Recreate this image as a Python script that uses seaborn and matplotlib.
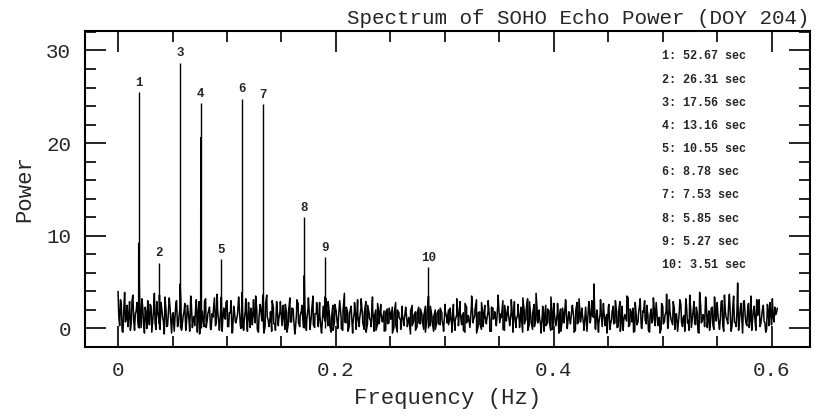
import numpy as np
import pandas as pd
import matplotlib
matplotlib.use("Agg")
import matplotlib.pyplot as plt
import seaborn as sns
from matplotlib.ticker import MultipleLocator

# ---------------- data ----------------
# noise floor, sampled on an even frequency grid (set A)
noise_power_a = [
    4.0, 0.3, 2.6, -0.4, 3.9, 1.1, 0.2, 2.9, 0.6, 3.6, -0.2, 1.9, 0.8, 3.4, 0.1, 2.2, -0.5, 1.5, 3.0, 0.4,
    2.4, 0.9, 3.8, -0.1, 1.7, 0.5, 2.8, 1.2, -0.6, 2.1, 0.3, 3.3, 0.7, 1.6, -0.3, 2.7, 0.2, 1.4, 3.1, 0.6,
    1.9, -0.2, 2.5, 0.8, 3.5, 0.1, 1.3, 2.3, -0.4, 2.9, 0.5, 1.8, 0.2, 3.2, 0.9, 2.0, -0.1, 1.6, 2.6, 0.3,
    3.7, 0.6, 1.5, -0.3, 2.2, 1.0, 3.0, 0.2, 1.7, -0.5, 2.4, 0.7, 1.2, 3.4, 0.4, 2.1, -0.2, 1.9, 0.5, 2.8,
    0.1, 1.4, 3.1, 0.6, 2.0, -0.4, 2.6, 0.9, 1.6, 0.2, 3.6, 0.8, 1.1, -0.3, 2.3, 0.5, 2.9, 0.3, 1.8, 1.0,
    2.5, -0.1, 1.7, 0.4, 3.3, 0.7, 2.1, -0.6, 1.5, 2.7, 0.2, 1.9, 0.6, 3.0, -0.2, 2.2, 0.8, 1.3, 3.5, 0.1,
    1.6, 0.5, 2.8, -0.3, 2.0, 1.1, 3.2, 0.3, 1.4, -0.4, 2.5, 0.7, 1.9, 0.0, 2.7, 1.2, -0.2, 3.8, 0.6, 1.7,
    0.3, 2.4, -0.5, 1.8, 0.9, 3.1, 0.2, 2.2, 1.3, -0.1, 2.9, 0.5, 1.6, 0.8, 3.4, -0.3, 2.0, 0.4, 1.5, 2.6,
    0.7, 1.9, -0.2, 2.1, 0.6, 1.4, 2.3, 0.1, 2.8, -0.4, 1.7, 0.9, 2.4, 0.3, 2.1, 0.6, 1.2, -0.6, 2.5, 0.8,
    1.8, 0.2, 2.3, 0.5, 1.5, -0.1, 2.4, 1.0, 2.9, 0.3, 1.3, -0.3, 2.0, 0.7, 2.0, 0.4, 1.7, 0.0, 2.6, 1.1,
    0.4, 2.2, -0.4, 1.6, 0.8, 3.2, 0.3, 1.9, 1.2, -0.2, 2.7, 0.6, 1.4, 0.1, 3.5, 0.9, 2.0, -0.5, 1.7, 0.5,
    2.8, 0.2, 1.5, 0.7, 3.0, -0.3, 2.3, 1.0, 1.8, 0.4, 3.6, 0.6, 1.2, -0.1, 2.5, 0.8, 1.9, 0.3, 3.1, -0.4,
    1.6, 0.9, 2.6, 0.1, 1.4, 3.3, 0.5, 2.0, -0.2, 2.9, 0.7, 1.7, 0.2, 3.8, 0.6, 1.3, -0.5, 2.4, 1.1, 0.3,
    2.1, 0.8, 3.4, -0.1, 1.8, 0.4, 2.7, 1.2, -0.3, 2.2, 0.6, 3.0, 0.2, 1.5, 0.9, 2.5, -0.4, 1.9, 0.5, 3.2,
    0.7, 1.6, -0.2, 2.3, 0.3, 2.9, 0.9, 1.4, 4.8, -0.1, 1.7, 0.6, 3.1, 0.2, 2.0, 1.0, -0.5, 2.6, 0.4, 1.8,
    0.5, 3.0, 0.1, 1.9, -0.3, 2.4, 0.8, 1.3, 3.5, 0.2, 2.1, 0.7, -0.4, 2.8, 0.4, 1.6, 3.2, 0.0, 1.8, 0.9,
    2.5, -0.2, 1.5, 0.6, 3.3, 0.3, 2.0, 1.1, -0.5, 2.7, 0.5, 1.4, 3.7, 0.2, 1.9, 0.8, 2.9, -0.1, 1.6, 0.4,
    3.1, 0.7, 1.2, -0.3, 2.6, 0.9, 3.6, 0.1, 1.8, 0.5, 2.3, -0.4, 3.9, 0.6, 1.5, 0.2, 2.8, 1.0, -0.2, 2.2,
    0.4, 3.4, 0.8, 1.7, -0.1, 2.9, 0.3, 3.6, 1.2, 0.5, 3.7, -0.3, 2.1, 0.7, 0.2, 4.9, 0.6, 2.7, -0.5, 3.0,
    0.6, 1.9, 0.1, 3.5, 0.9, 2.4, -0.2, 1.4, 3.1, 0.5, 2.0, 0.8, -0.4, 2.6, 0.3, 1.8, 3.2, 0.7, 1.5, 2.2,
]
# noise floor, the in-between frequency bins (set B)
noise_power_b = [
    1.2, 3.1, -0.3, 2.0, 0.7, 2.5, 1.4, -0.2, 3.0, 0.9, 1.6, 2.8, 0.1, 1.9, 3.2, 0.5, 2.3, 0.0, 1.1, 2.6,
    -0.4, 1.8, 0.6, 2.9, 1.3, -0.1, 2.2, 0.8, 3.4, 0.2, 1.5, 2.4, -0.5, 1.7, 0.9, 3.0, 0.4, 2.1, -0.2, 1.3,
    2.7, 0.5, 1.9, -0.3, 2.6, 1.0, 0.3, 3.1, 1.4, -0.6, 2.0, 0.8, 2.9, 0.1, 1.6, 2.3, -0.1, 1.2, 3.3, 0.6,
    1.8, -0.2, 2.5, 0.9, 1.3, 2.8, 0.2, 1.7, 3.0, -0.4, 2.1, 0.6, 1.5, 2.6, 0.0, 1.9, 0.7, 3.2, -0.3, 1.4,
    2.2, 0.4, 1.6, 3.5, -0.1, 1.1, 2.4, 0.8, -0.5, 2.7, 1.3, 0.2, 1.8, 3.0, 0.5, -0.2, 2.3, 1.0, 2.9, 0.3,
    1.5, 2.6, -0.4, 1.9, 0.7, 2.2, 1.2, -0.3, 3.1, 0.6, 1.4, 2.5, 0.1, 1.8, 0.9, 3.3, -0.1, 2.0, 0.4, 1.6,
    2.8, 0.2, 1.3, -0.5, 2.4, 0.8, 1.7, 2.9, 0.3, 1.1, -0.2, 2.6, 1.5, 0.5, 3.0, 0.0, 1.9, 0.7, 2.3, -0.3,
    1.6, 2.1, 0.4, 2.8, -0.1, 1.4, 0.9, 3.2, 0.6, 1.8, -0.4, 2.5, 1.1, 0.2, 2.0, 1.3, -0.2, 2.7, 0.5, 1.7,
    0.9, -0.3, 1.8, 0.5, 2.2, 1.0, -0.5, 1.6, 0.4, 2.0, 1.2, -0.1, 1.5, 0.7, 2.3, 0.2, 1.1, 1.9, 0.3, 1.4,
    -0.2, 1.7, 0.6, 2.1, 0.9, 1.3, -0.4, 1.8, 0.3, 2.4, 0.8, 1.2, -0.1, 1.6, 0.5, 2.2, 1.0, -0.3, 1.9, 0.6,
    2.0, 1.1, 0.3, 2.6, -0.2, 1.5, 0.8, 2.9, 0.4, 1.7, -0.4, 2.3, 1.0, 0.1, 2.7, 0.6, 1.4, 3.1, 0.2, 1.8,
    -0.1, 1.3, 2.5, 0.5, 1.9, 0.9, -0.3, 2.2, 1.2, 0.3, 2.8, 0.7, 1.6, 3.0, -0.2, 1.1, 2.4, 0.6, 1.7, 0.8,
    2.9, 0.1, 1.5, 0.7, 2.3, -0.4, 1.8, 1.0, 3.2, 0.4, 1.2, -0.1, 2.6, 0.9, 1.4, 2.0, 0.2, 1.7, -0.3, 2.5,
    0.6, 1.9, -0.2, 1.3, 2.7, 0.3, 1.6, -0.5, 2.1, 0.8, 1.4, 3.1, 0.0, 1.8, 0.5, 2.4, 1.1, -0.2, 2.8, 0.7,
    1.3, 2.2, 0.4, 1.7, -0.3, 2.5, 0.6, 3.0, 1.2, 0.1, 2.0, -0.4, 1.6, 0.9, 2.7, 0.3, 1.5, 2.3, -0.1, 1.0,
    2.4, 0.6, 1.8, 0.2, 2.9, 1.1, -0.2, 1.5, 0.8, 3.3, 0.4, 1.7, 2.2, -0.3, 1.2, 0.7, 2.6, 0.1, 1.9, 3.0,
    0.5, 1.4, -0.4, 2.1, 0.9, 1.6, 2.8, 0.3, 1.2, -0.1, 2.4, 0.7, 1.8, 0.0, 3.1, 1.0, 0.4, 2.2, 1.5, -0.3,
    1.7, 2.6, 0.2, 1.4, 3.2, 0.6, -0.2, 2.0, 1.1, 2.9, 0.4, 1.6, -0.5, 2.5, 0.8, 1.3, 3.4, 0.1, 1.9, 0.7,
    2.3, -0.1, 1.5, 2.8, 0.5, 1.2, 3.0, -0.3, 1.8, 0.9, 2.6, 1.3, 0.2, 3.5, 0.6, 1.7, -0.2, 2.1, 1.0, 2.9,
    1.4, 0.3, 2.7, 1.0, -0.2, 2.0, 0.8, 3.1, 1.6, 0.2, 1.3, 2.5, 0.6, -0.1, 1.9, 2.8, 0.4, 1.2, 2.3, 1.7,
]
freq_start, freq_end = 0.0, 0.605

peak_ids = ["1", "2", "3", "4", "5", "6", "7", "8", "9", "10"]
peak_periods = [52.67, 26.31, 17.56, 13.16, 10.55, 8.78, 7.53, 5.85, 5.27, 3.51]
peak_data_power = [9.2, 3.6, 4.8, 20.6, 3.4, 3.9, 3.6, 5.7, 3.4, 3.5]
peak_marker_top = [25.5, 7.1, 28.7, 24.3, 7.5, 24.8, 24.2, 12.0, 7.7, 6.6]

legend_lines = [f"{i}: {p:.2f} sec" for i, p in zip(peak_ids, peak_periods)]

x_tick_values = [0, 0.2, 0.4, 0.6]
x_tick_labels = ["0", "0.2", "0.4", "0.6"]
y_tick_values = [0, 10, 20, 30]
y_tick_labels = ["0", "10", "20", "30"]

# ---------------- build table ----------------
freq_a = np.linspace(freq_start, freq_end, len(noise_power_a))
half_step = (freq_end - freq_start) / (len(noise_power_a) - 1) / 2
freq_b = np.linspace(freq_start + half_step, freq_end - half_step, len(noise_power_b))
peak_freq = [1.0 / p for p in peak_periods]
df = pd.DataFrame({
    "freq": np.concatenate([freq_a, freq_b, peak_freq]),
    "power": np.concatenate([noise_power_a, noise_power_b, peak_data_power]),
}).sort_values("freq").reset_index(drop=True)

# ---------------- style ----------------
sns.set_style("white")
plt.rcParams["font.family"] = ["Liberation Mono", "DejaVu Sans"]

fig = plt.figure(figsize=(8.15, 4.18), dpi=100)
ax = fig.add_axes([85 / 815, 1 - 347 / 418, (810 - 85) / 815, (347 - 31) / 418])

sns.lineplot(data=df, x="freq", y="power", ax=ax, color="black",
             linewidth=1.1, estimator=None, sort=True)

# peak marker lines & labels
ax.vlines(peak_freq, 0, peak_marker_top, color="black", linewidth=1.0)
for f, top, lab in zip(peak_freq, peak_marker_top, peak_ids):
    ax.text(f, top + 0.35, lab, ha="center", va="bottom", fontsize=9,
            fontweight="bold", family="Liberation Mono")

# legend list of periods
for k, line in enumerate(legend_lines):
    ax.text(0.4995, 29.35 - 2.5 * k, line, ha="left", va="center",
            fontsize=8.5, fontweight="bold", family="Liberation Mono")

ax.set_xlim(-0.0303, 0.635)
ax.set_ylim(-2.0, 32.1)

ax.set_xticks(x_tick_values)
ax.set_xticklabels(x_tick_labels)
ax.set_yticks(y_tick_values)
ax.set_yticklabels(y_tick_labels)
ax.xaxis.set_minor_locator(MultipleLocator(0.05))
ax.yaxis.set_minor_locator(MultipleLocator(2))

ax.tick_params(which="both", direction="in", top=True, right=True,
               bottom=True, left=True, color="black", width=1.2)
ax.tick_params(which="major", length=15, labelsize=15, pad=10)
ax.tick_params(which="minor", length=8)

for s in ax.spines.values():
    s.set_visible(True)
    s.set_color("black")
    s.set_linewidth(1.5)

ax.set_xlabel("Frequency (Hz)", fontsize=16, labelpad=6)
ax.set_ylabel("Power", fontsize=16, labelpad=8)
ax.set_title("Spectrum of SOHO Echo Power (DOY 204)", loc="right",
             fontsize=15, pad=5)

fig.savefig("out.png", dpi=100, facecolor="white")
